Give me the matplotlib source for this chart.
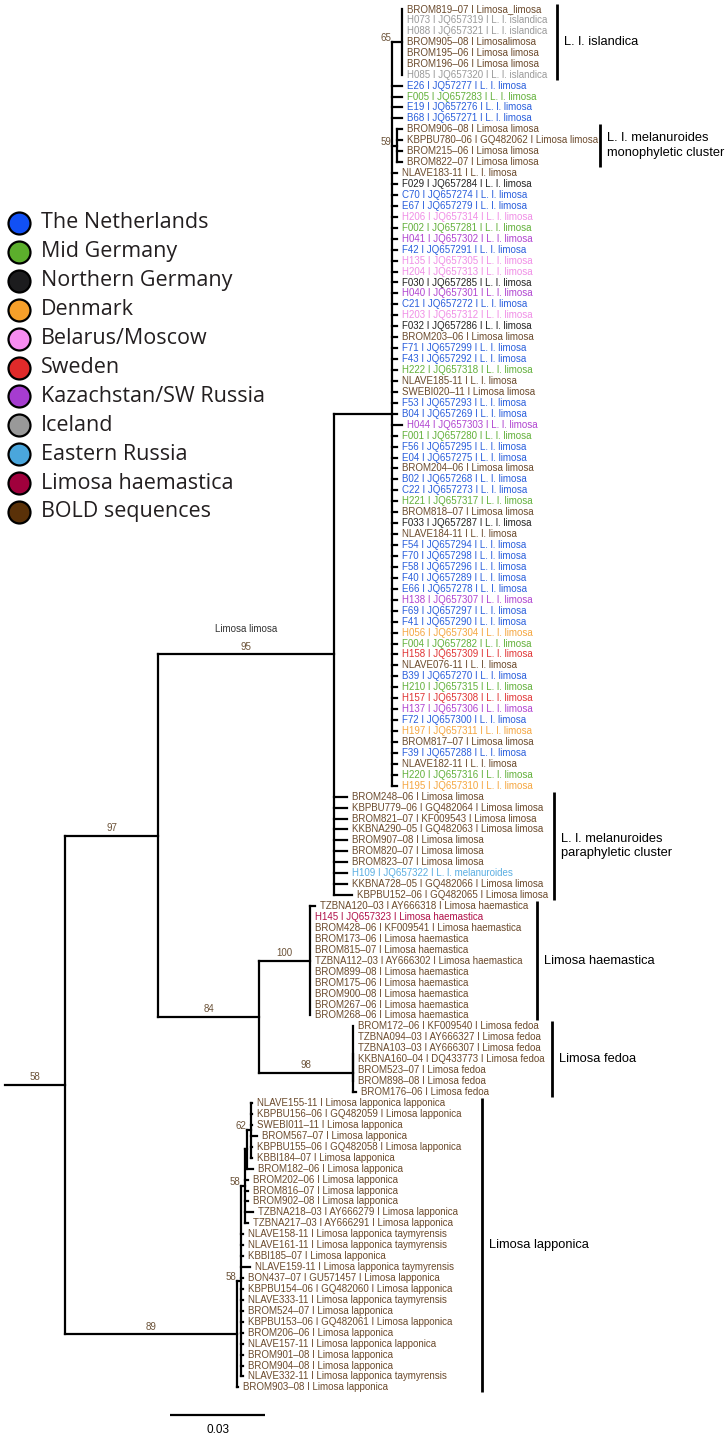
import matplotlib
matplotlib.use("Agg")
import matplotlib.pyplot as plt
from matplotlib.collections import LineCollection

# ---------------- data ----------------
REGIONS = ["The Netherlands", "Mid Germany", "Northern Germany", "Denmark",
           "Belarus/Moscow", "Sweden", "Kazachstan/SW Russia", "Iceland",
           "Eastern Russia", "Limosa haemastica", "BOLD sequences"]
REGION_CODES = ["N", "G", "K", "O", "P", "S", "U", "I", "E", "H", "B"]
REGION_FILL = ["#1150f5", "#5caf2c", "#1c1c1e", "#f7a02a", "#f78cf0", "#e02a2a",
               "#a63cd0", "#999999", "#4aa6dc", "#a0003c", "#5a3108"]
REGION_TEXT = ["#2a5fdc", "#62b03a", "#222222", "#f5a640", "#f08ee6", "#e03434",
               "#b044d0", "#9a9a9a", "#5aaee2", "#b01048", "#6b4a2c"]

TIP_LABELS = [
    "BROM819–07 I Limosa_limosa", "H073 I JQ657319 I L. l. islandica",
    "H088 I JQ657321 I L. l. islandica", "BROM905–08 I Limosalimosa",
    "BROM195–06 I Limosa limosa", "BROM196–06 I Limosa limosa",
    "H085 I JQ657320 I L. l. islandica",
    "E26 I JQ57277 I L. l. limosa", "F005 I JQ657283 I L. l. limosa",
    "E19 I JQ657276 I L. l. limosa", "B68 I JQ657271 I L. l. limosa",
    "BROM906–08 I Limosa limosa", "KBPBU780–06 I GQ482062 I Limosa limosa",
    "BROM215–06 I Limosa limosa", "BROM822–07 I Limosa limosa",
    "NLAVE183-11 I L. l. limosa", "F029 I JQ657284 I L. l. limosa",
    "C70 I JQ657274 I L. l. limosa", "E67 I JQ657279 I L. l. limosa",
    "H206 I JQ657314 I L. l. limosa", "F002 I JQ657281 I L. l. limosa",
    "H041 I JQ657302 I L. l. limosa", "F42 I JQ657291 I L. l. limosa",
    "H135 I JQ657305 I L. l. limosa", "H204 I JQ657313 I L. l. limosa",
    "F030 I JQ657285 I L. l. limosa", "H040 I JQ657301 I L. l. limosa",
    "C21 I JQ657272 I L. l. limosa", "H203 I JQ657312 I L. l. limosa",
    "F032 I JQ657286 I L. l. limosa", "BROM203–06 I Limosa limosa",
    "F71 I JQ657299 I L. l. limosa", "F43 I JQ657292 I L. l. limosa",
    "H222 I JQ657318 I L. l. limosa", "NLAVE185-11 I L. l. limosa",
    "SWEBI020–11 I Limosa limosa", "F53 I JQ657293 I L. l. limosa",
    "B04 I JQ657269 I L. l. limosa", "H044 I JQ657303 I L. l. limosa",
    "F001 I JQ657280 I L. l. limosa", "F56 I JQ657295 I L. l. limosa",
    "E04 I JQ657275 I L. l. limosa", "BROM204–06 I Limosa limosa",
    "B02 I JQ657268 I L. l. limosa", "C22 I JQ657273 I L. l. limosa",
    "H221 I JQ657317 I L. l. limosa", "BROM818–07 I Limosa limosa",
    "F033 I JQ657287 I L. l. limosa", "NLAVE184-11 I L. l. limosa",
    "F54 I JQ657294 I L. l. limosa", "F70 I JQ657298 I L. l. limosa",
    "F58 I JQ657296 I L. l. limosa", "F40 I JQ657289 I L. l. limosa",
    "E66 I JQ657278 I L. l. limosa", "H138 I JQ657307 I L. l. limosa",
    "F69 I JQ657297 I L. l. limosa", "F41 I JQ657290 I L. l. limosa",
    "H056 I JQ657304 I L. l. limosa", "F004 I JQ657282 I L. l. limosa",
    "H158 I JQ657309 I L. l. limosa", "NLAVE076-11 I L. l. limosa",
    "B39 I JQ657270 I L. l. limosa", "H210 I JQ657315 I L. l. limosa",
    "H157 I JQ657308 I L. l. limosa", "H137 I JQ657306 I L. l. limosa",
    "F72 I JQ657300 I L. l. limosa", "H197 I JQ657311 I L. l. limosa",
    "BROM817–07 I Limosa limosa", "F39 I JQ657288 I L. l. limosa",
    "NLAVE182-11 I L. l. limosa", "H220 I JQ657316 I L. l. limosa",
    "H195 I JQ657310 I L. l. limosa",
    "BROM248–06 I Limosa limosa", "KBPBU779–06 I GQ482064 I Limosa limosa",
    "BROM821–07 I KF009543 I Limosa limosa", "KKBNA290–05 I GQ482063 I Limosa limosa",
    "BROM907–08 I Limosa limosa", "BROM820–07 I Limosa limosa",
    "BROM823–07 I Limosa limosa", "H109 I JQ657322 I L. l. melanuroides",
    "KKBNA728–05 I GQ482066 I Limosa limosa", "KBPBU152–06 I GQ482065 I Limosa limosa",
    "TZBNA120–03 I AY666318 I Limosa haemastica", "H145 I JQ657323 I Limosa haemastica",
    "BROM428–06 I KF009541 I Limosa haemastica", "BROM173–06 I Limosa haemastica",
    "BROM815–07 I Limosa haemastica", "TZBNA112–03 I AY666302 I Limosa haemastica",
    "BROM899–08 I Limosa haemastica", "BROM175–06 I Limosa haemastica",
    "BROM900–08 I Limosa haemastica", "BROM267–06 I Limosa haemastica",
    "BROM268–06 I Limosa haemastica",
    "BROM172–06 I KF009540 I Limosa fedoa", "TZBNA094–03 I AY666327 I Limosa fedoa",
    "TZBNA103–03 I AY666307 I Limosa fedoa", "KKBNA160–04 I DQ433773 I Limosa fedoa",
    "BROM523–07 I Limosa fedoa", "BROM898–08 I Limosa fedoa",
    "BROM176–06 I Limosa fedoa",
    "NLAVE155-11 I Limosa lapponica lapponica", "KBPBU156–06 I GQ482059 I Limosa lapponica",
    "SWEBI011–11 I Limosa lapponica", "BROM567–07 I Limosa lapponica",
    "KBPBU155–06 I GQ482058 I Limosa lapponica", "KBBI184–07 I Limosa lapponica",
    "BROM182–06 I Limosa lapponica", "BROM202–06 I Limosa lapponica",
    "BROM816–07 I Limosa lapponica", "BROM902–08 I Limosa lapponica",
    "TZBNA218–03 I AY666279 I Limosa lapponica", "TZBNA217–03 I AY666291 I Limosa lapponica",
    "NLAVE158-11 I Limosa lapponica taymyrensis", "NLAVE161-11 I Limosa lapponica taymyrensis",
    "KBBI185–07 I Limosa lapponica", "NLAVE159-11 I Limosa lapponica taymyrensis",
    "BON437–07 I GU571457 I Limosa lapponica", "KBPBU154–06 I GQ482060 I Limosa lapponica",
    "NLAVE333-11 I Limosa lapponica taymyrensis", "BROM524–07 I Limosa lapponica",
    "KBPBU153–06 I GQ482061 I Limosa lapponica", "BROM206–06 I Limosa lapponica",
    "NLAVE157-11 I Limosa lapponica lapponica", "BROM901–08 I Limosa lapponica",
    "BROM904–08 I Limosa lapponica", "NLAVE332-11 I Limosa lapponica taymyrensis",
    "BROM903–08 I Limosa lapponica",
]

TIP_REGION = (
    "B I I B B B I "
    "N G N N "
    "B B B B "
    "B K N N P G U N P P K U N P K B N N G B B N N U G N N B N N G B K B "
    "N N N N N U N N O G S B N G S U N O B N B G O "
    "B B B B B B B E B B "
    "B H B B B B B B B B B "
    "B B B B B B B "
    "B B B B B B B B B B B B B B B B B B B B B B B B B B B"
).split()

TIP_PARENT = (["I65"] * 7 + ["D"] * 4 + ["M59"] * 4 + ["D"] * 57 + ["C"] * 10
              + ["HAE"] * 11 + ["FED6"] * 6 + ["FED"] + ["L62"] * 6 + ["LX"]
              + ["LY"] * 5 + ["LM"] * 14 + ["LAP"])

TIP_BRANCH = [
    0, 0, 0, 0, 0, 0, 0,
    0.0032, 0.0032, 0.0032, 0.0032,
    0.0016, 0.0016, 0.0016, 0.0016,
    0.0016, 0.0016, 0.0016, 0.0016, 0.0016, 0.0016, 0.0016, 0.0016, 0.0016, 0.0016,
    0.0016, 0.0016, 0.0016, 0.0016, 0.0016, 0.0016, 0.0016, 0.0016, 0.0016, 0.0016,
    0.0016, 0.0016, 0.0016, 0.0032, 0.0016, 0.0016, 0.0016, 0.0016, 0.0016, 0.0016,
    0.0016, 0.0016, 0.0016, 0.0016, 0.0016, 0.0016, 0.0016, 0.0016, 0.0016, 0.0016,
    0.0016, 0.0016, 0.0016, 0.0016, 0.0016, 0.0016, 0.0016, 0.0016, 0.0016, 0.0016,
    0.0016, 0.0016, 0.0016, 0.0016, 0.0016, 0.0016, 0.0016,
    0.0041, 0.0041, 0.0041, 0.0041, 0.0041, 0.0041, 0.0041, 0.0041, 0.0041, 0.0057,
    0.0016, 0, 0, 0, 0, 0, 0, 0, 0, 0, 0,
    0, 0, 0, 0, 0, 0, 0.0008,
    0.0003, 0.0003, 0.0003, 0.0019, 0.0003, 0.0003,
    0.0019,
    0.0009, 0.0009, 0.0009, 0.0025, 0.0009,
    0.0006, 0.0006, 0.0006, 0.0028, 0.0006, 0.0006, 0.0006, 0.0006, 0.0006, 0.0006,
    0.0006, 0.0006, 0.0006, 0.0006,
    0.0003,
]

NODE_IDS = ["A", "B", "C", "D", "I65", "M59", "E", "HAE", "FED", "FED6",
            "LAP", "LM", "LY", "LX", "L62"]
NODE_PARENT = [None, "A", "B", "C", "D", "D", "B", "E", "E", "FED",
               "A", "LAP", "LM", "LY", "LX"]
NODE_BRANCH = [0.0190, 0.0294, 0.0556, 0.0183, 0.0032, 0.0016, 0.0319, 0.0161,
               0.0297, 0.0, 0.0543, 0.0013, 0.0013, 0.0006, 0.0013]
NODE_SUPPORT = ["58", "97", "95", "", "65", "59", "84", "100", "98", "",
                "89", "58", "58", "", "62"]
NODE_NAME = {"C": "Limosa limosa"}

CLADE_LABELS = ["L. l. islandica", "L. l. melanuroides\nmonophyletic cluster",
                "L. l. melanuroides\nparaphyletic cluster", "Limosa haemastica",
                "Limosa fedoa", "Limosa lapponica"]
CLADE_FIRST = [0, 11, 72, 82, 93, 100]
CLADE_LAST = [6, 14, 81, 92, 99, 126]

SCALE_LEN = 0.03

# ---------------- layout / style ----------------
W, H = 728, 1439
PPU = 3167.0          # pixels per substitution unit
X0 = 5.0              # pixel of tree origin
Y0, DY = 9.0, 10.94   # pixel of first tip, tip spacing
CLADE_BAR_PX = [557, 600, 554, 537, 552, 482]
LW = 1.6
TIP_FS = 7.0
FONT = ["Liberation Sans", "DejaVu Sans"]
SUPPORT_COLOR = "#6b5238"

fig = plt.figure(figsize=(W / 100, H / 100), dpi=100)
ax = fig.add_axes([0, 0, 1, 1])
ax.set_xlim(-X0 / PPU, (W - X0) / PPU)
ax.set_ylim((H - Y0) / DY, -Y0 / DY)
ax.axis("off")
ax.patch.set_alpha(0)

# ---------- build tree ----------
parent = {}
branch = {}
for i, (p, b) in enumerate(zip(TIP_PARENT, TIP_BRANCH)):
    parent[("t", i)] = p
    branch[("t", i)] = b
for n, p, b in zip(NODE_IDS, NODE_PARENT, NODE_BRANCH):
    parent[n] = p
    branch[n] = b

children = {n: [] for n in NODE_IDS}
for k, p in parent.items():
    if p is not None:
        children[p].append(k)


def min_leaf(k):
    if isinstance(k, tuple):
        return k[1]
    return min(min_leaf(c) for c in children[k])


for n in NODE_IDS:
    children[n].sort(key=min_leaf)

ypos = {}


def get_y(k):
    if k in ypos:
        return ypos[k]
    if isinstance(k, tuple):
        y = float(k[1])
    else:
        ch = children[k]
        y = (get_y(ch[0]) + get_y(ch[-1])) / 2.0
    ypos[k] = y
    return y


xpos = {}


def get_x(k):
    if k in xpos:
        return xpos[k]
    p = parent[k]
    x = branch[k] + (0.0 if p is None else get_x(p))
    xpos[k] = x
    return x


segs = []
for k in parent:
    p = parent[k]
    x0 = 0.0 if p is None else get_x(p)
    x1 = get_x(k)
    y = get_y(k)
    if x1 - x0 > 1e-9:
        segs.append([(x0, y), (x1, y)])
for n in NODE_IDS:
    ch = children[n]
    segs.append([(get_x(n), get_y(ch[0])), (get_x(n), get_y(ch[-1]))])

ax.add_collection(LineCollection(segs, colors="black", linewidths=LW,
                                 capstyle="projecting"))

# tip labels
code_index = {c: i for i, c in enumerate(REGION_CODES)}
for i, lab in enumerate(TIP_LABELS):
    col = REGION_TEXT[code_index[TIP_REGION[i]]]
    ax.annotate(lab, (get_x(("t", i)), i), xytext=(3.6, 0),
                textcoords="offset points", ha="left", va="center",
                fontsize=TIP_FS, color=col, family=FONT)

# support values
for n, s in zip(NODE_IDS, NODE_SUPPORT):
    if not s:
        continue
    p = parent[n]
    xp = 0.0 if p is None else get_x(p)
    xn = get_x(n)
    y = get_y(n)
    if (xn - xp) * PPU >= 30:
        ax.annotate(s, ((xp + xn) / 2, y), xytext=(0, 5.5), textcoords="offset points",
                    ha="center", va="center", fontsize=7, color=SUPPORT_COLOR,
                    family=FONT)
    else:
        ax.annotate(s, (xp, y), xytext=(-0.5, 3), textcoords="offset points",
                    ha="right", va="center", fontsize=7, color=SUPPORT_COLOR,
                    family=FONT)
    if n in NODE_NAME:
        ax.annotate(NODE_NAME[n], ((xp + xn) / 2, y), xytext=(0, 18.5),
                    textcoords="offset points", ha="center", va="center",
                    fontsize=7, color="#333333", family=FONT)

# clade bars
for lab, a, b, bx in zip(CLADE_LABELS, CLADE_FIRST, CLADE_LAST, CLADE_BAR_PX):
    xb = (bx - X0) / PPU
    ax.plot([xb, xb], [a - 0.45, b + 0.45], color="black", lw=2.0,
            solid_capstyle="butt")
    ax.annotate(lab, (xb, (a + b) / 2), xytext=(5, 0), textcoords="offset points",
                ha="left", va="center", fontsize=9.3, color="black", family=FONT,
                linespacing=1.3)

# scale bar
sx0 = (170 - X0) / PPU
sy = (1415 - Y0) / DY
ax.plot([sx0, sx0 + SCALE_LEN], [sy, sy], color="black", lw=LW, solid_capstyle="butt")
ax.annotate(f"{SCALE_LEN:.2f}", (sx0 + SCALE_LEN / 2, sy), xytext=(0, -11),
            textcoords="offset points", ha="center", va="center", fontsize=8.5,
            color="black", family=FONT)

# legend (pixel axes)
lax = fig.add_axes([0, 0, 1, 1])
lax.set_xlim(0, W)
lax.set_ylim(H, 0)
lax.axis("off")
lax.patch.set_alpha(0)
LEG_Y0, LEG_DY = 223, 28.9
for i, (name, fc) in enumerate(zip(REGIONS, REGION_FILL)):
    y = LEG_Y0 + i * LEG_DY
    lax.scatter([19], [y], s=250, facecolor=fc, edgecolor="black", linewidth=1.6,
                zorder=3)
    lax.text(41, y, name, ha="left", va="center", fontsize=15.5,
             family=["Open Sans", "DejaVu Sans"], color="#231f20")

fig.savefig("out.png", dpi=100)
